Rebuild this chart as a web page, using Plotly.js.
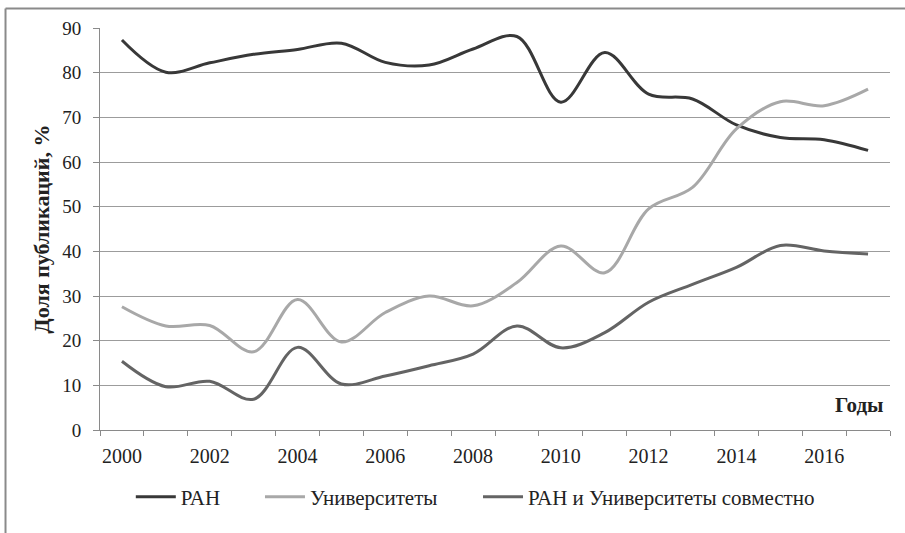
<!DOCTYPE html>
<html>
<head>
<meta charset="utf-8">
<script src="https://cdn.plot.ly/plotly-3.0.1.min.js"></script>
<style>html,body{margin:0;padding:0;background:#fff;}#chart{width:905px;height:533px;}</style>
</head>
<body>
<div id="chart"></div>
<script>
const years = [2000,2001,2002,2003,2004,2005,2006,2007,2008,2009,2010,2011,2012,2013,2014,2015,2016,2017];
const ran = [87.3,80.1,82.2,84.1,85.2,86.6,82.3,81.7,85.3,88.1,73.4,84.5,75.2,74.1,68.3,65.5,65.0,62.6];
const univ = [27.6,23.3,23.4,17.5,29.2,19.7,26.3,30.0,27.8,33.0,41.2,35.2,49.5,54.3,67.4,73.5,72.6,76.3];
const joint = [15.4,9.7,10.9,6.9,18.5,10.3,12.1,14.4,17.0,23.3,18.4,21.8,28.6,32.6,36.4,41.3,40.1,39.4];
const seriesNames = ['РАН','Университеты','РАН и Университеты совместно'];
const xTickYears = [2000,2002,2004,2006,2008,2010,2012,2014,2016];
const yTitle = 'Доля публикаций, %';
const xTitle = 'Годы';

const colors = ['#383838','#a8a8a8','#646464'];
const legendIds = ['legend','legend2','legend3'];
const vals = [ran, univ, joint];
const traces = vals.map((v,i)=>({
  x: years, y: v, name: seriesNames[i], type:'scatter', mode:'lines', legend: legendIds[i],
  line:{color:colors[i], width:3, shape:'spline', smoothing:1}
}));

const serif = 'Liberation Serif, Times New Roman, serif';
const legendX = [0.039, 0.2025, 0.4785];
function mkLegend(x){
  return {orientation:'h', x:x, xanchor:'left', y:-0.167, yanchor:'middle',
          font:{family:serif, size:21, color:'#222'}, itemwidth:40, bgcolor:'rgba(0,0,0,0)'};
}
const layout = {
  width:905, height:533,
  margin:{l:100, r:15, t:28, b:103},
  paper_bgcolor:'#fff', plot_bgcolor:'#fff',
  font:{family:serif, color:'#222'},
  showlegend:true,
  legend: mkLegend(legendX[0]),
  legend2: mkLegend(legendX[1]),
  legend3: mkLegend(legendX[2]),
  xaxis:{
    type:'linear', range:[1999.5,2017.5], tickmode:'array', tickvals:xTickYears,
    ticktext:xTickYears.map(String), ticks:'', showgrid:false, zeroline:false,
    showline:true, linecolor:'#8a8a8a', linewidth:1,
    tickfont:{family:serif, size:20, color:'#222'}, ticklabelstandoff:8,
    minor:{tickmode:'linear', tick0:1999.5, dtick:1, ticks:'outside', ticklen:5, tickwidth:1, tickcolor:'#8a8a8a', showgrid:false},
    fixedrange:true
  },
  yaxis:{
    range:[0,90], tickmode:'linear', tick0:0, dtick:10, ticks:'outside', ticklen:6, tickcolor:'#8a8a8a',
    showgrid:true, gridcolor:'#9c9c9c', gridwidth:1, zeroline:false,
    showline:true, linecolor:'#8a8a8a', linewidth:1,
    tickfont:{family:serif, size:19, color:'#222'}, ticklabelstandoff:8,
    title:{text:yTitle, font:{family:serif, size:22, color:'#222', weight:'bold'}, standoff:6},
    fixedrange:true
  },
  annotations:[{
    text:'<b>'+xTitle+'</b>', xref:'paper', yref:'paper', x:0.9937, y:0.063,
    xanchor:'right', yanchor:'middle', showarrow:false,
    font:{family:serif, size:21, color:'#222'}
  }],
  shapes:[
    {type:'line', xref:'paper', yref:'paper', x0:-0.1196, x1:1.02, y0:1.0485, y1:1.0485, line:{color:'#8a8a8a', width:2}},
    {type:'line', xref:'paper', yref:'paper', x0:-0.1196, x1:-0.1196, y0:1.0485, y1:-0.26, line:{color:'#8a8a8a', width:2}}
  ]
};
Plotly.newPlot('chart', traces, layout, {staticPlot:true, displayModeBar:false});
</script>
</body>
</html>
